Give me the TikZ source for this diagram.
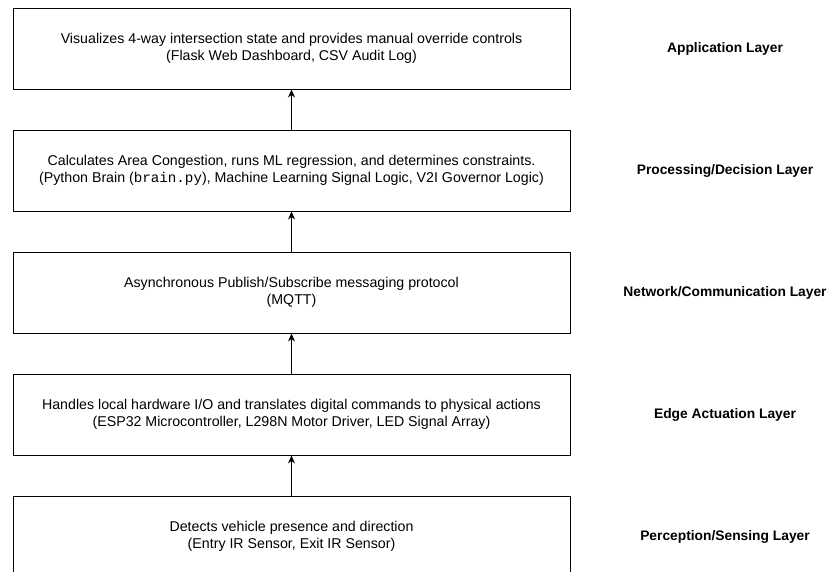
\documentclass[tikz,border=0pt]{standalone}
\usepackage{fontspec}
\setmainfont{Liberation Sans}
\setmonofont{Liberation Mono}
\usetikzlibrary{positioning,arrows.meta}

\begin{document}
\begin{tikzpicture}[x=1pt,y=1pt,
    layerbox/.style={draw=black,line width=1pt,minimum width=557pt,minimum height=81pt,
      inner sep=0pt,align=center,font=\fontsize{14.2}{16.5}\selectfont},
    layerlabel/.style={font=\fontsize{13.8}{16}\selectfont\bfseries,align=center},
    flow/.style={-{Stealth[length=8pt,width=7pt]},line width=0.9pt},
    node distance=40pt]
      \pgfmathsetmacro{\shift}{433.5}
      % Canvas
      \useasboundingbox (0,0) rectangle (830,-571);
      % Layer boxes, top to bottom
      \node[layerbox] (app) at (291.5,-48.5)
        {Visualizes 4-way intersection state and provides manual override controls\\
         (Flask Web Dashboard, CSV Audit Log)};
      \node[layerbox,below=of app] (proc)
        {Calculates Area Congestion, runs ML regression, and determines constraints.\\
         (Python Brain (\texttt{brain.py}), Machine Learning Signal Logic, V2I Governor Logic)};
      \node[layerbox,below=of proc] (net)
        {Asynchronous Publish/Subscribe messaging protocol\\
         (MQTT)};
      \node[layerbox,below=of net] (edge)
        {Handles local hardware I/O and translates digital commands to physical actions\\
         (ESP32 Microcontroller, L298N Motor Driver, LED Signal Array)};
      \node[layerbox,below=of edge] (sense)
        {Detects vehicle presence and direction\\
         (Entry IR Sensor, Exit IR Sensor)};
      % Layer names
      \node[layerlabel] (appL)   at ([xshift=\shift]app.center)   {Application Layer};
      \node[layerlabel] (procL)  at ([xshift=\shift]proc.center)  {Processing/Decision Layer};
      \node[layerlabel] (netL)   at ([xshift=\shift]net.center)   {Network/Communication Layer};
      \node[layerlabel] (edgeL)  at ([xshift=\shift]edge.center)  {Edge Actuation Layer};
      \node[layerlabel] (senseL) at ([xshift=\shift]sense.center) {Perception/Sensing Layer};
      % Data flows upward
      \draw[flow] (sense) -- (edge);
      \draw[flow] (edge) -- (net);
      \draw[flow] (net) -- (proc);
      \draw[flow] (proc) -- (app);
    \end{tikzpicture}
\end{document}
